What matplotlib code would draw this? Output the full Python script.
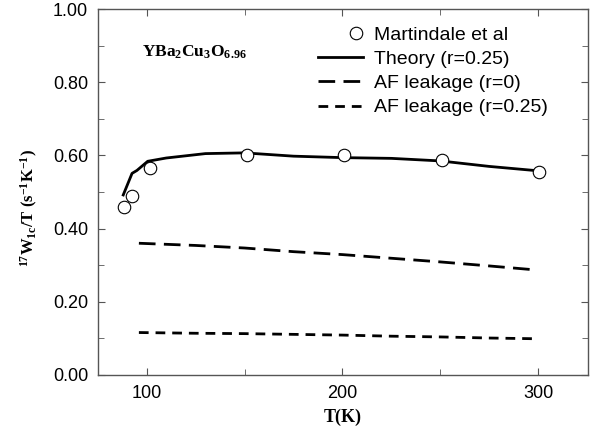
import numpy as np
import matplotlib
matplotlib.use('Agg')
import matplotlib.pyplot as plt
from matplotlib.ticker import MultipleLocator
from matplotlib.legend_handler import HandlerLine2D

# Martindale et al data
t_data = [88.5, 92.5, 101.5, 151, 201, 251, 300.5]
w_data = [0.458, 0.489, 0.565, 0.600, 0.600, 0.587, 0.556]

# theory (r=0.25)
t_th = [88, 92.5, 95, 100.5, 110, 130, 150, 175, 200, 225, 250, 275, 300]
w_th = [0.492, 0.551, 0.559, 0.584, 0.593, 0.605, 0.607, 0.598, 0.594, 0.592, 0.585, 0.570, 0.558]

# AF leakage
t_af = [96, 125, 150, 175, 200, 225, 250, 275, 299]
w_af0 = [0.360, 0.354, 0.347, 0.337, 0.329, 0.319, 0.309, 0.298, 0.287]
w_af25 = [0.116, 0.114, 0.113, 0.111, 0.109, 0.106, 0.104, 0.101, 0.099]

plt.rcParams['font.family'] = ['Liberation Sans', 'DejaVu Sans']
plt.rcParams['mathtext.fontset'] = 'custom'
plt.rcParams['mathtext.rm'] = 'Liberation Serif:bold'
plt.rcParams['mathtext.it'] = 'Liberation Serif:bold'
plt.rcParams['mathtext.bf'] = 'Liberation Serif:bold'


# legend marker drawn at the right end of the handle, next to the text
class RightMarker(HandlerLine2D):
    def get_xdata(self, legend, xdescent, ydescent, width, height, fontsize):
        m = -xdescent + width - 0.35 * fontsize
        return [m - 1, m + 1], [m]


fig = plt.figure(figsize=(6, 4.32), dpi=100)
ax = fig.add_axes([0.163, 0.132, 0.817, 0.847])

pts, = ax.plot(t_data, w_data, 'o', ms=9, mfc='white', mec='black', mew=0.8,
               label='Martindale et al', zorder=3)
ax.plot(t_th, w_th, '-', color='black', lw=2, label='Theory (r=0.25)')
ax.plot(t_af, w_af0, color='black', lw=2, dashes=(6, 3), label='AF leakage (r=0)')
ax.plot(t_af, w_af25, color='black', lw=2, dashes=(3.5, 2.5), label='AF leakage (r=0.25)')

ax.set_xlim(75, 325.5)
ax.set_ylim(0, 1.0)
ax.xaxis.set_major_locator(MultipleLocator(100))
ax.xaxis.set_minor_locator(MultipleLocator(50))
ax.yaxis.set_major_locator(MultipleLocator(0.2))
ax.yaxis.set_minor_locator(MultipleLocator(0.1))
ax.yaxis.set_major_formatter(plt.FormatStrFormatter('%.2f'))
ax.tick_params(which='both', direction='in', top=True, right=True,
               labelsize=13, color='#555555')
ax.tick_params(which='major', length=5)
ax.tick_params(which='minor', length=4)
ax.tick_params(axis='y', pad=7)
ax.tick_params(axis='x', pad=7)
for s in ax.spines.values():
    s.set_color('#555555')
    s.set_linewidth(1)

ax.set_xlabel('T(K)', family='Liberation Serif', fontweight='bold', fontsize=13,
              labelpad=5)
ax.set_ylabel(r'$^{17}$W$_{1c}$/T (s$^{-1}$K$^{-1}$)', family='Liberation Serif',
              fontweight='bold', fontsize=12)
ax.yaxis.set_label_coords(-0.118, 0.456)

ax.text(0.09, 0.869, r'YBa$_2$Cu$_3$O$_{6.96}$', transform=ax.transAxes,
        family='Liberation Serif', fontweight='bold', fontsize=12.5, va='baseline')

leg = ax.legend(loc='upper left', bbox_to_anchor=(0.45, 0.952), frameon=False,
                fontsize=14, handlelength=2.3, handletextpad=0.55,
                labelspacing=0.33, borderaxespad=0, borderpad=0,
                handler_map={pts: RightMarker(numpoints=1)})

fig.savefig('out.png', dpi=100)
